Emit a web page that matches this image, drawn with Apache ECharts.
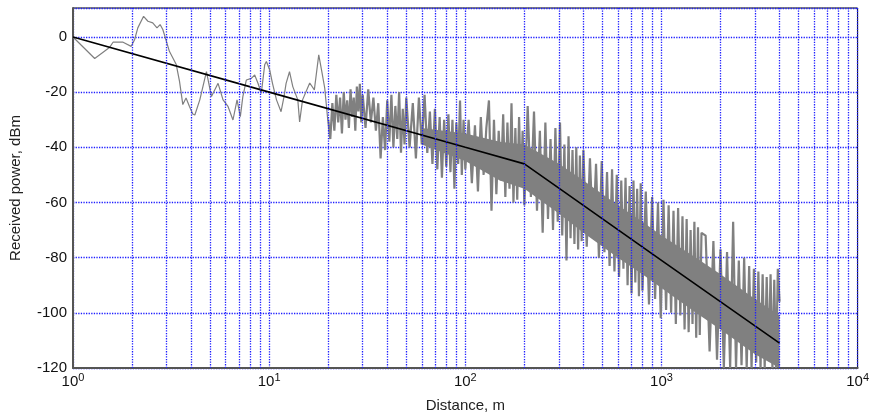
<!DOCTYPE html>
<html><head><meta charset="utf-8">
<script src="https://cdn.jsdelivr.net/npm/echarts@6/dist/echarts.min.js"></script>
<style>html,body{margin:0;padding:0;background:#fff}#c{width:872px;height:419px}</style>
</head><body><div id="c"></div>
<script>
// Minor log grid positions (2..9 per decade)
const minorGridDistances = [2,3,4,5,6,7,8,9,20,30,40,50,60,70,80,90,200,300,400,500,600,700,800,900,2000,3000,4000,5000,6000,7000,8000,9000];

// Black model line: [distance m, dBm]
const modelLine = [[1,0],[10,-20],[100,-40],[200,-46],[300,-54.8],[1000,-81],[4000,-111]];

// Grey measured signal, read segment by segment
const measuredNear = [[1,0],[1.29,-7.8],[1.54,-3.7],[1.6,-1.9],[1.8,-1.9],[1.98,-3.4],[2.06,-1],[2.14,3.3],[2.29,7.5],[2.41,5.7],[2.55,5.1],[2.68,3.3],[2.78,4.5],[2.87,2.7],[2.96,-0.4],[3.1,-5.2],[3.36,-10],[3.49,-16],[3.63,-24.5],[3.77,-22.1],[3.92,-25.1],[4.08,-27.9],[4.18,-28.3],[4.43,-22.8],[4.79,-12.6],[5.08,-21.6],[5.49,-16.8],[5.82,-22.8],[6.17,-25.2],[6.54,-30.1],[6.86,-22.8],[7.13,-28.9],[7.34,-21.7],[7.65,-15.6],[8.11,-15],[8.44,-13.8],[8.77,-16.8],[9.12,-20.4],[9.49,-10.1],[9.68,-8.9],[10.07,-12],[10.4,-16.8],[10.9,-22.8],[11.5,-27.1],[11.9,-21.7],[12.2,-16.8],[12.7,-12.6],[13.2,-18],[14.0,-22.8],[14.3,-30.8],[14.8,-22.8],[16.1,-16.7],[17.0,-19.2],[17.9,-6.5],[18.5,-12],[19.2,-18.5],[19.9,-30.1],[20,-30]];
const measured20 = [[20,-30],[20.5,-37],[21,-24],[21.5,-34],[22,-21],[22.5,-31],[23,-22],[23.5,-35],[24,-20],[24.5,-30],[25,-23],[25.5,-33],[26,-19],[26.5,-29],[27,-22],[27.5,-34],[28,-18],[28.5,-27],[29,-17],[29.5,-31],[30,-21]];
const measured30 = [[31,-33],[32,-19],[33,-31],[34,-22],[35,-34],[36,-24],[37,-44],[38,-29],[39,-41],[40,-23],[41,-38],[42,-21],[43,-40],[44,-25],[45,-37],[46,-20],[47,-42],[48,-26],[49,-39],[50,-22]];
const measured50 = [[52,-40],[54,-24],[56,-44],[58,-22],[60,-39],[62,-21],[64,-42],[66,-27],[68,-46],[70,-26],[72,-48],[74,-29],[76,-51],[78,-30],[80,-47],[82,-28],[84,-49],[86,-30],[88,-55],[90,-31],[92,-46],[94,-23],[96,-50],[98,-30],[100,-48]];
const measured100 = [[104,-30],[108,-53],[112,-32],[116,-56],[120,-29],[124,-50],[128,-33],[132,-23],[136,-63],[140,-30],[144,-57],[148,-34],[152,-52],[156,-28],[160,-58],[164,-31],[168,-55],[172,-24],[176,-60],[180,-33],[184,-59],[188,-29],[192,-54],[196,-34],[200,-61]];
const measured200 = [[208,-25],[216,-58],[224,-27],[232,-63],[240,-34],[248,-71],[256,-31],[264,-66],[272,-37],[280,-70],[288,-33],[296,-67],[304,-31],[312,-72],[320,-39],[328,-81],[336,-36],[344,-73],[352,-41],[360,-75],[368,-40],[376,-77],[384,-43],[392,-74],[400,-41]];
const measured400 = [[416,-76],[432,-44],[448,-73],[464,-46],[480,-80],[496,-45],[512,-78],[528,-49],[544,-83],[560,-48],[576,-85],[592,-50],[608,-87],[624,-52],[640,-84],[656,-51],[672,-90],[688,-54],[704,-93],[720,-52],[736,-89],[752,-55],[768,-94],[784,-53],[800,-92]];
const measured800 = [[832,-56],[864,-97],[896,-58],[928,-95],[960,-60],[992,-102],[1024,-59],[1056,-99],[1088,-61],[1120,-100],[1152,-63],[1184,-104],[1216,-62],[1248,-101],[1280,-65],[1312,-106],[1344,-66],[1376,-107],[1408,-70],[1440,-104],[1472,-67],[1504,-109],[1536,-69],[1568,-108],[1600,-71]];
const measured1600 = [[1680,-72],[1760,-114],[1840,-74],[1920,-117],[2000,-77],[2080,-120],[2160,-78],[2240,-120],[2320,-67],[2400,-120],[2480,-81],[2560,-119],[2640,-80],[2720,-120],[2800,-83],[2880,-120],[2960,-84],[3040,-118],[3120,-85],[3200,-120],[3280,-86],[3360,-120],[3440,-87],[3520,-117],[3600,-86],[3680,-120],[3760,-88],[3840,-120],[3920,-84],[4000,-96]];

// Solid core of the dense grey band: distance, upper edge, lower edge
const coreDistance = [60, 100, 150, 200, 300, 400, 600, 800, 1000, 1500, 2000, 3000, 4000];
const coreUpper    = [-33, -35, -38, -39, -46, -52, -61, -67, -72, -80, -86, -95, -101];
const coreLower    = [-39, -45, -52, -55, -64, -71, -80, -86, -91, -100, -106, -115, -120];

const measuredDense = [].concat(measured20, measured30, measured50, measured100, measured200, measured400, measured800, measured1600);

const gridBlue = '#1e1eff';
const gridWidth = 1.3;
const font = 'Liberation Sans, Arial, sans-serif';
const chart = echarts.init(document.getElementById('c'), null, {renderer: 'canvas'});
chart.setOption({
  animation: false,
  backgroundColor: '#fff',
  grid: {left: 73, right: 13, top: 8, bottom: 51, show: true, borderColor: '#000', borderWidth: 1},
  xAxis: {
    type: 'log', logBase: 10, min: 1, max: 10000,
    name: 'Distance, m', nameLocation: 'middle', nameGap: 30,
    nameTextStyle: {fontFamily: font, fontSize: 15, color: '#222'},
    axisLine: {show: true, onZero: false, lineStyle: {color: '#555', width: 2}},
    axisTick: {show: false},
    splitLine: {show: true, lineStyle: {color: gridBlue, type: 'dotted', width: gridWidth}},
    axisLabel: {
      margin: 4,
      formatter: function (v) { return '{b|10}{s|' + Math.round(Math.log10(v)) + '}'; },
      rich: {
        b: {fontFamily: font, fontSize: 15, color: '#111'},
        s: {fontFamily: font, fontSize: 11, color: '#111', padding: [0, 0, 8, 0]}
      }
    }
  },
  yAxis: {
    type: 'value', min: -120, max: 10.5, interval: 20,
    name: 'Received power, dBm', nameLocation: 'middle', nameGap: 50,
    nameTextStyle: {fontFamily: font, fontSize: 15, color: '#222'},
    axisLine: {show: true, onZero: false, lineStyle: {color: '#555', width: 2}},
    axisTick: {show: false},
    splitLine: {show: true, lineStyle: {color: gridBlue, type: 'dotted', width: gridWidth}},
    axisLabel: {showMaxLabel: false, margin: 6, fontFamily: font, fontSize: 15, color: '#111'}
  },
  series: [
    {
      type: 'line', z: 1, data: [[1, 0]], showSymbol: false, symbol: 'none',
      lineStyle: {opacity: 0}, silent: true,
      markLine: {
        silent: true, symbol: ['none', 'none'], animation: false,
        label: {show: false},
        lineStyle: {color: gridBlue, type: 'dotted', width: gridWidth},
        data: minorGridDistances.map(d => ({xAxis: d}))
      }
    },
    {
      type: 'custom', z: 2, silent: true,
      data: coreDistance.map((d, i) => [d, coreUpper[i], coreLower[i]]),
      renderItem: function (params, api) {
        if (params.dataIndex !== 0) return null;
        const pts = [];
        for (let i = 0; i < coreDistance.length; i++) pts.push(api.coord([coreDistance[i], coreUpper[i]]));
        for (let i = coreDistance.length - 1; i >= 0; i--) pts.push(api.coord([coreDistance[i], coreLower[i]]));
        return {type: 'polygon', shape: {points: pts}, style: {fill: '#808080'}};
      }
    },
    {
      type: 'line', z: 3, data: measuredNear, showSymbol: false, symbol: 'none',
      lineStyle: {color: '#808080', width: 1.2}
    },
    {
      type: 'line', z: 3, data: measuredDense, showSymbol: false, symbol: 'none',
      lineStyle: {color: '#808080', width: 2.2, join: 'bevel'}
    },
    {
      type: 'line', z: 4, data: modelLine, showSymbol: false, symbol: 'none',
      lineStyle: {color: '#000', width: 1.6}
    }
  ]
});
</script></body></html>
